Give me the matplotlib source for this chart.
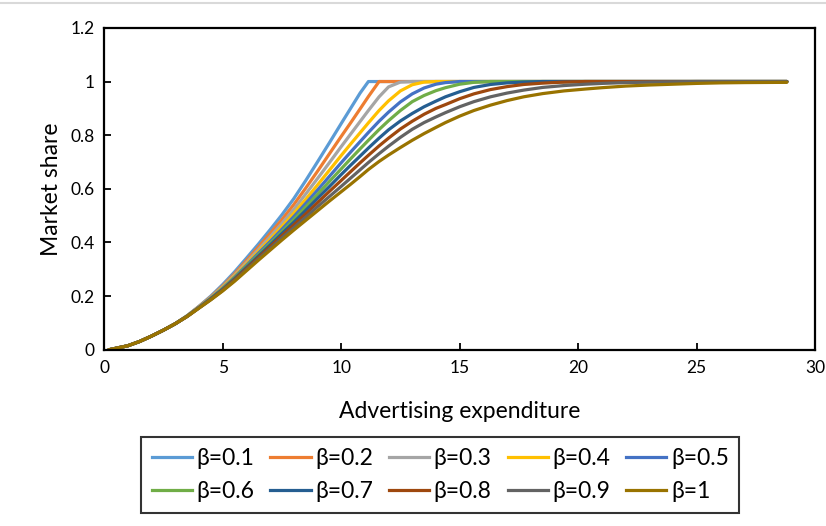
import matplotlib
matplotlib.use('Agg')
import matplotlib.pyplot as plt
from matplotlib.lines import Line2D

plt.rcParams['font.family'] = ['Lato', 'DejaVu Sans']

# advertising expenditure sampled along the curves
X_VALUES = [0.2, 1, 1.5, 2, 2.5, 3, 3.5, 4, 4.5, 5, 5.5, 6, 6.5, 7, 7.5, 8,
            8.5, 9, 9.5, 10, 10.4, 10.8, 11.15, 11.6, 12, 12.5, 13, 13.5, 14,
            14.4, 15, 15.6, 16.3, 17, 17.7, 18.5, 19.4, 20.3, 21, 22, 23, 24,
            25, 26, 27, 28.8]

# market share, one list per beta
SHARE_B01 = [0, .015, .031, .051, .073, .097, .127, .162, .200, .243, .290,
             .341, .393, .447, .503, .563, .630, .700, .771, .843, .900, .957,
             1.0, 1.0, 1.0, 1.0, 1.0, 1.0, 1.0, 1.0, 1.0, 1.0, 1.0, 1.0, 1.0,
             1.0, 1.0, 1.0, 1.0, 1.0, 1.0, 1.0, 1.0, 1.0, 1.0, 1.0]
SHARE_B02 = [0, .015, .031, .051, .073, .097, .126, .161, .197, .238, .283,
             .332, .382, .433, .485, .541, .602, .665, .730, .795, .846, .898,
             .944, 1.0, 1.0, 1.0, 1.0, 1.0, 1.0, 1.0, 1.0, 1.0, 1.0, 1.0, 1.0,
             1.0, 1.0, 1.0, 1.0, 1.0, 1.0, 1.0, 1.0, 1.0, 1.0, 1.0]
SHARE_B03 = [0, .015, .031, .051, .073, .097, .126, .160, .195, .235, .278,
             .325, .373, .421, .471, .523, .580, .638, .697, .757, .804, .851,
             .892, .943, .980, .998, 1.0, 1.0, 1.0, 1.0, 1.0, 1.0, 1.0, 1.0,
             1.0, 1.0, 1.0, 1.0, 1.0, 1.0, 1.0, 1.0, 1.0, 1.0, 1.0, 1.0]
SHARE_B04 = [0, .015, .031, .051, .073, .097, .126, .159, .193, .232, .274,
             .319, .365, .411, .459, .508, .560, .614, .669, .724, .767, .809,
             .846, .892, .928, .965, .988, .998, 1.0, 1.0, 1.0, 1.0, 1.0, 1.0,
             1.0, 1.0, 1.0, 1.0, 1.0, 1.0, 1.0, 1.0, 1.0, 1.0, 1.0, 1.0]
SHARE_B05 = [0, .015, .031, .051, .073, .097, .125, .158, .192, .229, .270,
             .314, .359, .403, .449, .496, .545, .595, .646, .697, .737, .776,
             .810, .852, .886, .924, .954, .976, .990, .996, 1.0, 1.0, 1.0,
             1.0, 1.0, 1.0, 1.0, 1.0, 1.0, 1.0, 1.0, 1.0, 1.0, 1.0, 1.0, 1.0]
SHARE_B06 = [0, .015, .031, .051, .073, .097, .125, .157, .191, .227, .267,
             .310, .353, .396, .440, .485, .532, .579, .627, .674, .712, .749,
             .781, .821, .854, .892, .925, .948, .966, .977, .990, .997, 1.0,
             1.0, 1.0, 1.0, 1.0, 1.0, 1.0, 1.0, 1.0, 1.0, 1.0, 1.0, 1.0, 1.0]
SHARE_B07 = [0, .015, .031, .051, .073, .097, .125, .157, .190, .225, .264,
             .306, .348, .390, .433, .475, .519, .564, .608, .653, .688, .722,
             .752, .789, .820, .853, .881, .906, .927, .943, .962, .978, .989,
             .995, .998, 1.0, 1.0, 1.0, 1.0, 1.0, 1.0, 1.0, 1.0, 1.0, 1.0, 1.0]
SHARE_B08 = [0, .015, .031, .051, .073, .097, .124, .156, .188, .223, .261,
             .302, .343, .384, .425, .465, .506, .548, .590, .631, .664, .697,
             .725, .760, .789, .823, .852, .878, .900, .914, .936, .954, .970,
             .981, .989, .994, .998, 1.0, 1.0, 1.0, 1.0, 1.0, 1.0, 1.0, 1.0,
             1.0]
SHARE_B09 = [0, .015, .031, .051, .073, .097, .124, .156, .187, .221, .258,
             .298, .338, .377, .417, .455, .494, .533, .571, .609, .640, .671,
             .698, .731, .759, .792, .822, .847, .868, .884, .906, .925, .943,
             .957, .968, .978, .985, .990, .993, .996, .998, .999, 1.0, 1.0,
             1.0, 1.0]
SHARE_B10 = [0, .015, .031, .051, .073, .097, .124, .155, .186, .219, .255,
             .294, .333, .371, .409, .446, .482, .518, .554, .589, .617, .646,
             .672, .702, .726, .754, .781, .806, .829, .847, .871, .892, .912,
             .929, .943, .955, .965, .972, .977, .983, .987, .990, .993, .995,
             .996, .997]

BETA_LABELS = ['β=0.1', 'β=0.2', 'β=0.3', 'β=0.4', 'β=0.5',
               'β=0.6', 'β=0.7', 'β=0.8', 'β=0.9', 'β=1']

SERIES = [SHARE_B01, SHARE_B02, SHARE_B03, SHARE_B04, SHARE_B05,
          SHARE_B06, SHARE_B07, SHARE_B08, SHARE_B09, SHARE_B10]

COLORS = ['#5B9BD5', '#ED7D31', '#A5A5A5', '#FFC000', '#4472C4',
          '#70AD47', '#255E91', '#9E480E', '#636363', '#997300']


def main():
    for values in SERIES:
        assert len(values) == len(X_VALUES)

    fig = plt.figure(figsize=(8.26, 5.26), dpi=100)
    ax = fig.add_axes([0.126, 0.335, 0.861, 0.612])

    for values, label, color in zip(SERIES, BETA_LABELS, COLORS):
        ax.plot(X_VALUES, values, color=color, lw=2.3, label=label,
                solid_capstyle='round', solid_joinstyle='round')

    ax.set_xlim(0, 30)
    ax.set_ylim(0, 1.2)
    ax.set_xticks([0, 5, 10, 15, 20, 25, 30])
    ax.set_yticks([0, 0.2, 0.4, 0.6, 0.8, 1.0, 1.2])
    ax.set_yticklabels(['0', '0.2', '0.4', '0.6', '0.8', '1', '1.2'])
    ax.tick_params(direction='in', length=5, width=1.3, labelsize=12.5, pad=7)
    for spine in ax.spines.values():
        spine.set_linewidth(1.6)
        spine.set_color('black')

    ax.set_xlabel('Advertising expenditure', fontsize=16.5, labelpad=18)
    ax.set_ylabel('Market share', fontsize=16.5, labelpad=6)

    # legend is filled row by row, matplotlib fills columns first
    ncol = 5
    order = [r * ncol + c for c in range(ncol) for r in range(2)]
    handles = [Line2D([], [], color=COLORS[i], lw=2.3) for i in order]
    labels = [BETA_LABELS[i] for i in order]
    leg = fig.legend(handles, labels, ncol=ncol, loc='center',
                     bbox_to_anchor=(0.533, 0.097), fontsize=16.5,
                     frameon=True, fancybox=False, edgecolor='black',
                     handlelength=1.75, handletextpad=0.2, columnspacing=0.7,
                     labelspacing=0.55, borderpad=0.45)
    leg.get_frame().set_linewidth(1.5)

    # thin grey chart border along the top
    fig.add_artist(Line2D([0, 1], [0.994, 0.994], color='#D9D9D9', lw=1.5,
                          transform=fig.transFigure))

    fig.savefig('out.png', dpi=100)


if __name__ == '__main__':
    main()
